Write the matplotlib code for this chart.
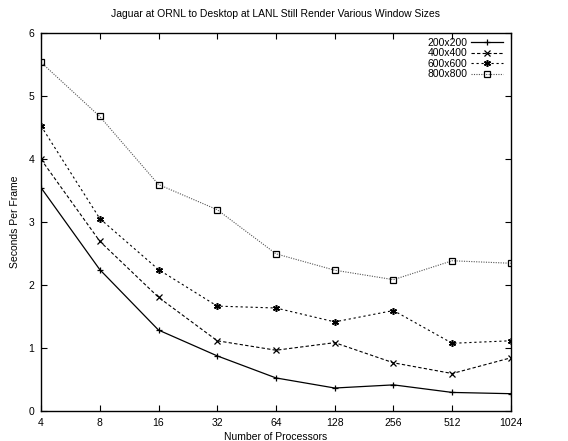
import numpy as np
import matplotlib
matplotlib.use("Agg")
import matplotlib.pyplot as plt

procs = [4, 8, 16, 32, 64, 128, 256, 512, 1024]
tick_labels = ["4", "8", "16", "32", "64", "128", "256", "512", "1024"]

win_200 = [3.54, 2.24, 1.28, 0.87, 0.52, 0.36, 0.41, 0.29, 0.27]
win_400 = [3.99, 2.69, 1.80, 1.11, 0.96, 1.08, 0.76, 0.59, 0.84]
win_600 = [4.52, 3.05, 2.24, 1.66, 1.63, 1.41, 1.59, 1.07, 1.11]
win_800 = [5.53, 4.67, 3.59, 3.19, 2.49, 2.23, 2.08, 2.38, 2.34]

labels = ["200x200", "400x400", "600x600", "800x800"]

plt.rcParams["font.family"] = ["Liberation Sans", "DejaVu Sans"]

fig = plt.figure(figsize=(5.68, 4.41), dpi=100)
ax = fig.add_axes([0.0722, 0.0687, 0.8274, 0.8572])

ax.plot(procs, win_200, color="black", lw=0.9, ls="-", marker="+", ms=5, mew=0.9, label=labels[0])
ax.plot(procs, win_400, color="black", lw=0.8, ls=(0, (3, 2)), marker="x", ms=4.5, mew=0.9, label=labels[1])
ax.plot(procs, win_600, color="black", lw=0.8, ls=(0, (2, 2.5)), marker=(6, 2, 0), ms=5, mew=1.1, label=labels[2])
ax.plot(procs, win_800, color="#555555", lw=0.8, ls=(0, (1, 1.2)), marker="s", ms=4, mew=0.9,
        mfc="none", mec="black", label=labels[3])

ax.set_xscale("log", base=2)
ax.set_xlim(4, 1024)
ax.set_ylim(0, 6)
ax.set_xticks(procs)
ax.set_xticklabels(tick_labels)
ax.minorticks_off()
ax.set_yticks(range(7))

ax.tick_params(direction="in", length=4, width=0.8, top=True, right=True, labelsize=7.5, pad=5)
for s in ax.spines.values():
    s.set_linewidth(1.0)

ax.set_title("Jaguar at ORNL to Desktop at LANL Still Render Various Window Sizes", fontsize=7.5, pad=11)
ax.set_xlabel("Number of Processors", fontsize=7.5, labelpad=3)
ax.set_ylabel("Seconds Per Frame", fontsize=7.5, labelpad=6)

leg = ax.legend(loc="upper right", frameon=False, fontsize=7.5, markerfirst=False,
                handlelength=3.0, handletextpad=0.4, labelspacing=0.05,
                borderaxespad=0.3, bbox_to_anchor=(0.998, 1.006))

fig.savefig("out.png", dpi=100)
